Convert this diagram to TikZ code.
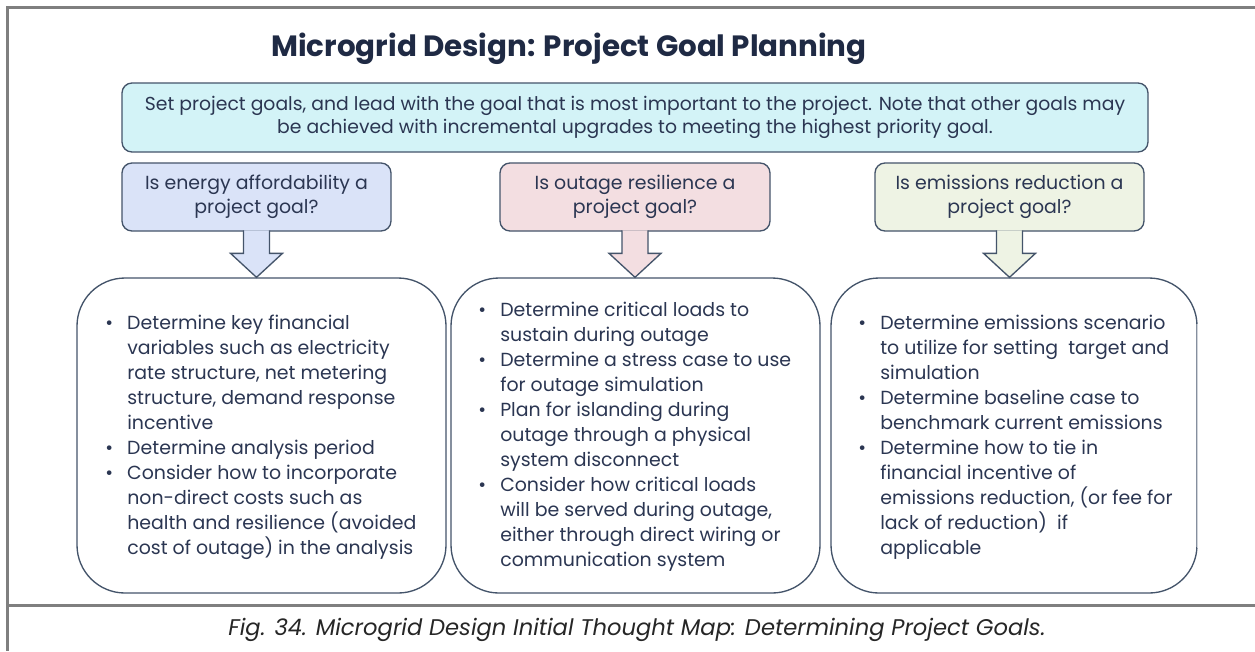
\documentclass[tikz,border=0pt]{standalone}
\usepackage{fontspec}
\setmainfont{Poppins}
\usetikzlibrary{calc}
\definecolor{frame}{HTML}{7F7F7F}
\definecolor{edge}{HTML}{44546A}
\definecolor{ink}{HTML}{2B3652}
\definecolor{titleink}{HTML}{1F2A44}
\definecolor{cyanfill}{HTML}{D3F3F7}
\definecolor{bluefill}{HTML}{DAE3F8}
\definecolor{pinkfill}{HTML}{F3DEE1}
\definecolor{greenfill}{HTML}{EEF3E4}
\newcommand\bodyfont{\fontsize{14.2}{18.75}\selectfont}
\newcommand\bul{\makebox[16.5pt][l]{\textbullet}}
\newcommand\ind{\hspace*{16.5pt}}
\tikzset{
  framerule/.style={draw=frame, line width=2.25pt},
  goalbox/.style={draw=edge, line width=1pt, rounded corners=7.5pt, text=ink, align=center, font=\fontsize{14.2}{18}\selectfont, inner sep=0pt},
  listbox/.style={draw=edge, line width=1pt, rounded corners=36pt, fill=white, minimum width=276.75pt, minimum height=236.25pt, inner sep=0pt},
  listtext/.style={anchor=north west, inner sep=0pt, align=left, text=ink, font=\bodyfont},
  blockarrow/.style={draw=edge, line width=1pt, line join=miter},
}
\newcommand\goalarrow[3]{%
  \coordinate (tip) at (#1.south |- #2.north);
  \draw[blockarrow, fill=#3] ($(tip)+(-13,-47)$) -- ($(tip)+(-13,-24)$) -- ($(tip)+(-26,-24)$) -- (tip) -- ($(tip)+(26,-24)$) -- ($(tip)+(13,-24)$) -- ($(tip)+(13,-47)$);
}
\begin{document}
\begin{tikzpicture}[x=0.75pt, y=-0.75pt]
\useasboundingbox (0,0) rectangle (1255,651);
\fill[white] (0,0) rectangle (1255,651);
% frame
\draw[framerule] (1255,7) -- (7,7) -- (7,651);
\draw[framerule] (7,605) -- (1255,605);
% title
\node[text=titleink, font=\fontsize{22}{26}\selectfont\bfseries] (title) at (569,49) {Microgrid Design: Project Goal Planning};
% top box
\node[goalbox, fill=cyanfill, minimum width=769.5pt, minimum height=51.75pt, font=\fontsize{14.1}{17.5}\selectfont] (top) at (635,117.5)
  {Set project goals, and lead with the goal that is most important to the project. Note that other goals may\\be achieved with incremental upgrades to meeting the highest priority goal.};
% question boxes
\node[goalbox, fill=bluefill, minimum width=201.75pt, minimum height=51pt] (q1) at (256.5,197) {Is energy affordability a\\project goal?};
\node[goalbox, fill=pinkfill, minimum width=202.5pt, minimum height=51pt] (q2) at (635,197) {Is outage resilience a\\project goal?};
\node[goalbox, fill=greenfill, minimum width=201.75pt, minimum height=51pt] (q3) at (1009.5,197) {Is emissions reduction a\\project goal?};
% list boxes
\node[listbox] (b1) at (261.5,435.5) {};
\node[listbox] (b2) at (635.5,435.5) {};
\node[listbox, minimum width=274.5pt] (b3) at (1014,435.5) {};
\draw[white, line width=1.6pt] (b3.east) ++(0,-112) -- ++(0,224);
\draw[edge!25, line width=0.8pt] (b3.east) ++(0,-112) -- ++(0,224);
% arrows
\goalarrow{q1}{b1}{bluefill}
\goalarrow{q2}{b2}{pinkfill}
\goalarrow{q3}{b3}{greenfill}
% list texts
\node[listtext] (t1) at (105,315) {%
\bul Determine key financial\\
\ind variables such as electricity\\
\ind rate structure, net metering\\
\ind structure, demand response\\
\ind incentive\\
\bul Determine analysis period\\
\bul Consider how to incorporate\\
\ind non-direct costs such as\\
\ind health and resilience (avoided\\
\ind cost of outage) in the analysis};
\node[listtext] (t2) at (478,302) {%
\bul Determine critical loads to\\
\ind sustain during outage\\
\bul Determine a stress case to use\\
\ind for outage simulation\\
\bul Plan for islanding during\\
\ind outage through a physical\\
\ind system disconnect\\
\bul Consider how critical loads\\
\ind will be served during outage,\\
\ind either through direct wiring or\\
\ind communication system};
\node[listtext] (t3) at (858,315) {%
\bul Determine emissions scenario\\
\ind to utilize for setting\ \ target and\\
\ind simulation\\
\bul Determine baseline case to\\
\ind benchmark current emissions\\
\bul Determine how to tie in\\
\ind financial incentive of\\
\ind emissions reduction, (or fee for\\
\ind lack of reduction)\ \ if\\
\ind applicable};
% caption
\node[text=black!85, font=\fontsize{17}{20}\selectfont\itshape] (cap) at (637,630) {Fig. 34. Microgrid Design Initial Thought Map: Determining Project Goals.};
\end{tikzpicture}
\end{document}
